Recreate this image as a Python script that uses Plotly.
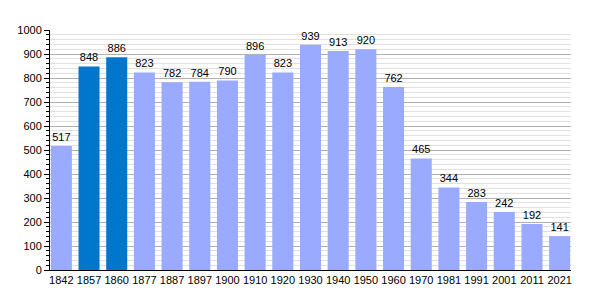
import plotly.graph_objects as go

years = ["1842", "1857", "1860", "1877", "1887", "1897", "1900", "1910", "1920", "1930",
         "1940", "1950", "1960", "1970", "1981", "1991", "2001", "2011", "2021"]
population = [517, 848, 886, 823, 782, 784, 790, 896, 823, 939,
              913, 920, 762, 465, 344, 283, 242, 192, 141]
highlight_years = ["1857", "1860"]

light = "#99aaff"
dark = "#0077cc"
colors = [dark if y in highlight_years else light for y in years]

fig = go.Figure(go.Bar(
    x=years, y=population,
    marker=dict(color=colors, line=dict(width=0)),
    text=[str(v) for v in population],
    textposition="outside",
    textfont=dict(family="Liberation Sans, Arial, sans-serif", size=11, color="#000"),
    cliponaxis=False,
))

fig.update_layout(
    width=600, height=300,
    margin=dict(l=50, r=29, t=30, b=30),
    paper_bgcolor="white", plot_bgcolor="white",
    bargap=0.24,
    showlegend=False,
    font=dict(family="Liberation Sans, Arial, sans-serif", size=11, color="#000"),
    xaxis=dict(
        type="category", range=[-0.41, 18.41],
        showline=True, linecolor="#000", linewidth=1,
        ticks="", showgrid=False, tickfont=dict(size=11),
    ),
    yaxis=dict(
        range=[0, 1000], dtick=100, tick0=0,
        showline=True, linecolor="#000", linewidth=1,
        ticks="outside", ticklen=5, tickcolor="#000",
        showgrid=True, gridcolor="#b0b0b0", gridwidth=1,
        zeroline=False, tickfont=dict(size=11),
        minor=dict(dtick=20, showgrid=True, gridcolor="#e0e0e0", gridwidth=1,
                   ticks="outside", ticklen=3, tickcolor="#000"),
    ),
)

fig.write_html("out.html")
